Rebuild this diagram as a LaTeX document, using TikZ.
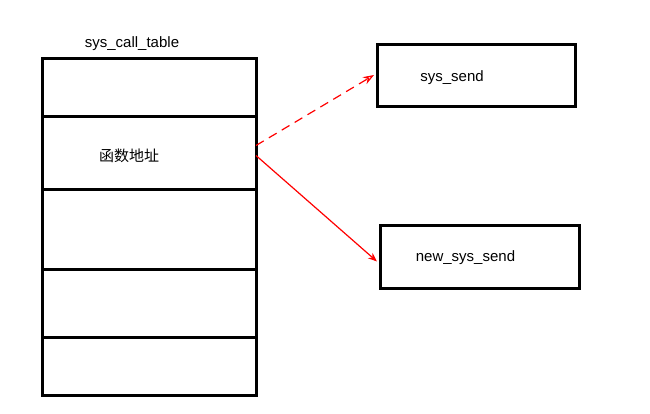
\documentclass[tikz,border=0pt]{standalone}
\usepackage{fontspec}
\setmainfont{Liberation Sans}
\newfontfamily\cjk{Noto Sans CJK SC}
\usetikzlibrary{arrows.meta, positioning}

\begin{document}
\begin{tikzpicture}[x=1pt, y=-1pt,
    every node/.style={font=\fontsize{15}{18}\selectfont},
    cell/.style={draw, line width=3pt, outer sep=0pt, inner sep=0pt,
        minimum width=214pt},
    box/.style={draw, line width=3pt, outer sep=0pt, inner sep=0pt},
    ptr/.style={red, line width=1.2pt}]
    \useasboundingbox (0,0) rectangle (650,413);

    % the table
    \node[cell, minimum height=58pt] (r1) at (149,87) {};
    \node[cell, minimum height=73pt, below=0pt of r1] (r2) {};
    \node[cell, minimum height=80pt, below=0pt of r2] (r3) {};
    \node[cell, minimum height=68pt, below=0pt of r3] (r4) {};
    \node[cell, minimum height=58pt, below=0pt of r4] (r5) {};
    \node (title) at (132,44) {sys\_call\_table};
    \node (addr) at ([xshift=-20pt, yshift=-3pt]r2.center) {\cjk 函数地址};

    % targets
    \node[box, minimum width=198pt, minimum height=62pt] (send) at (476,75) {};
    \node (sendtxt) at ([xshift=-24pt, yshift=-3pt]send.center) {sys\_send};
    \node[box, minimum width=199pt, minimum height=63pt] (newsend) at (479.5,256.5) {};
    \node (newtxt) at ([xshift=-14pt, yshift=-1pt]newsend.center) {new\_sys\_send};

    \draw[ptr, dash pattern=on 9pt off 6pt, -{Stealth[open, length=11pt, width=8pt]}]
        ([yshift=7pt]r2.east) -- ([xshift=-3pt]send.west);
    \draw[ptr, -{Stealth[length=9pt, width=7pt]}]
        ([yshift=-3pt]r2.east) -- ([xshift=-3pt, yshift=-5pt]newsend.west);

\end{tikzpicture}
\end{document}
